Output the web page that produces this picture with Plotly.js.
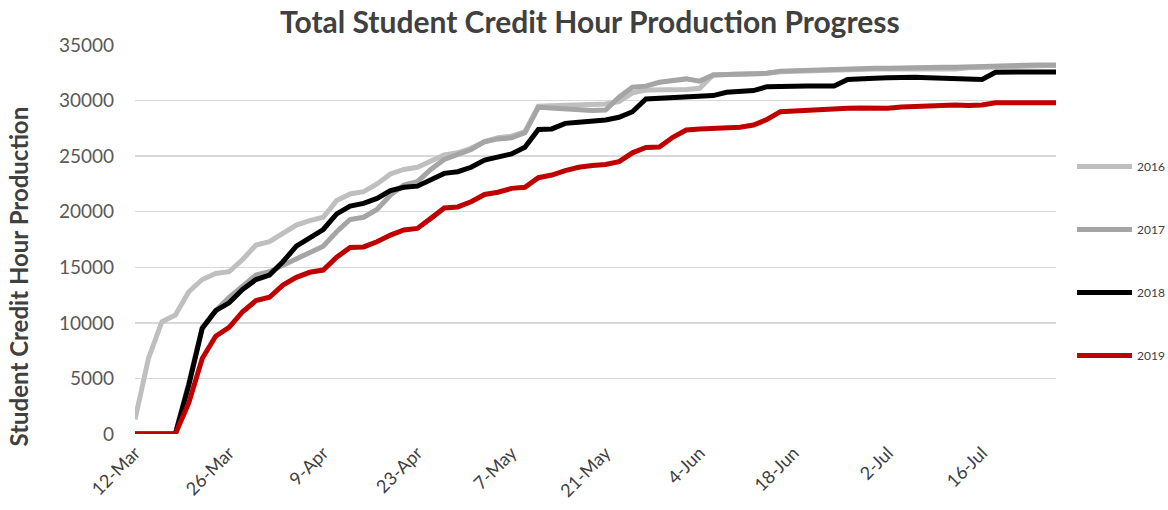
<!DOCTYPE html>
<html>
<head>
<meta charset="utf-8">
<script src="https://cdn.plot.ly/plotly-3.0.1.min.js"></script>
<style>
  html, body { margin: 0; padding: 0; background: #fff; }
  #chart { width: 1168px; height: 510px; }
</style>
</head>
<body>
<div id="chart"></div>
<script>
// every second day from 12-Mar, last point 27-Jul
const dates = [
  '2019-03-12', '2019-03-14', '2019-03-16', '2019-03-18', '2019-03-20', '2019-03-22', '2019-03-24', '2019-03-26', '2019-03-28', '2019-03-30',
  '2019-04-01', '2019-04-03', '2019-04-05', '2019-04-07', '2019-04-09', '2019-04-11', '2019-04-13', '2019-04-15', '2019-04-17', '2019-04-19',
  '2019-04-21', '2019-04-23', '2019-04-25', '2019-04-27', '2019-04-29', '2019-05-01', '2019-05-03', '2019-05-05', '2019-05-07', '2019-05-09',
  '2019-05-11', '2019-05-13', '2019-05-15', '2019-05-17', '2019-05-19', '2019-05-21', '2019-05-23', '2019-05-25', '2019-05-27', '2019-05-29',
  '2019-05-31', '2019-06-02', '2019-06-04', '2019-06-06', '2019-06-08', '2019-06-10', '2019-06-12', '2019-06-14', '2019-06-16', '2019-06-18',
  '2019-06-20', '2019-06-22', '2019-06-24', '2019-06-26', '2019-06-28', '2019-06-30', '2019-07-02', '2019-07-04', '2019-07-06', '2019-07-08',
  '2019-07-10', '2019-07-12', '2019-07-14', '2019-07-16', '2019-07-18', '2019-07-20', '2019-07-22', '2019-07-24', '2019-07-26', '2019-07-27'
];

const sch2016 = [
  1300, 6800, 10100, 10700, 12800, 13900, 14450, 14600, 15700, 17000,
  17300, 18100, 18800, 19200, 19500, 21000, 21600, 21800, 22500, 23400,
  23800, 24000, 24600, 25100, 25300, 25700, 26300, 26650, 26800, 27200,
  29500, 29550, 29600, 29600, 29650, 29700, 29900, 30700, 30950, 30950,
  30950, 31000, 31100, 32300, 32350, 32350, 32400, 32450, 32600, 32650,
  32700, 32750, 32800, 32800, 32800, 32850, 32850, 32850, 32900, 32850,
  32800, 32850, 32950, 33000, 33050, 33100, 33100, 33150, 33150, 33150
];

const sch2017 = [
  0, 0, 0, 0, 4600, 9600, 11100, 12300, 13300, 14300,
  14600, 15200, 15800, 16300, 16900, 18200, 19300, 19500, 20200, 21500,
  22400, 22700, 23800, 24700, 25100, 25600, 26300, 26550, 26650, 27100,
  29400, 29300, 29250, 29150, 29100, 29150, 30300, 31200, 31300, 31650,
  31850, 31950, 31750, 32300, 32350, 32350, 32400, 32450, 32650, 32700,
  32750, 32800, 32850, 32850, 32850, 32900, 32900, 32950, 32950, 32950,
  33000, 33000, 33050, 33100, 33100, 33150, 33200, 33200, 33200, 33200
];

const sch2018 = [
  0, 0, 0, 0, 4400, 9500, 11100, 11800, 13000, 13900,
  14300, 15500, 16900, 17600, 18400, 19800, 20500, 20750, 21200, 21900,
  22200, 22300, 22900, 23450, 23600, 24000, 24650, 24900, 25200, 25800,
  27400, 27450, 27950, 28050, 28100, 28250, 28500, 29000, 30150, 30200,
  30330, 30400, 30420, 30450, 30750, 30850, 30900, 31250, 31300, 31320,
  31320, 31320, 31320, 31900, 32000, 32000, 32050, 32100, 32100, 32050,
  32000, 31950, 31900, 31900, 32550, 32550, 32580, 32580, 32580, 32580
];

const sch2019 = [
  0, 0, 0, 0, 2800, 6800, 8800, 9600, 11000, 12000,
  12300, 13400, 14100, 14550, 14750, 15900, 16780, 16830, 17300, 17900,
  18360, 18500, 19400, 20340, 20430, 20900, 21550, 21750, 22100, 22200,
  23060, 23300, 23700, 24000, 24150, 24250, 24500, 25300, 25780, 25830,
  26700, 27350, 27450, 27500, 27560, 27600, 27800, 28300, 29000, 29070,
  29150, 29250, 29280, 29300, 29340, 29340, 29300, 29430, 29500, 29550,
  29610, 29600, 29550, 29600, 29800, 29800, 29780, 29780, 29800, 29800
];

const years = ['2016', '2017', '2018', '2019'];
const colors = ['#BFBFBF', '#A5A5A5', '#000000', '#C00000'];
const series = [sch2016, sch2017, sch2018, sch2019];

const font = 'Lato, "Open Sans", sans-serif';

let data = series.map((vals, i) => ({
  x: dates,
  y: vals,
  type: 'scatter',
  mode: 'lines',
  name: years[i],
  legendgroup: years[i],
  line: { color: colors[i], width: 5 }
}));

let layout = {
  width: 1168,
  height: 510,
  margin: { l: 135, r: 112, t: 45, b: 76, autoexpand: false },
  paper_bgcolor: '#ffffff',
  plot_bgcolor: '#ffffff',
  font: { family: font, color: '#595959' },
  title: {
    text: '<b>Total Student Credit Hour Production Progress</b>',
    font: { family: font, size: 30, color: '#404040' },
    x: 0.505, xanchor: 'center',
    y: 0.955, yanchor: 'middle'
  },
  xaxis: {
    type: 'date',
    range: ['2019-03-12', '2019-07-27'],
    tick0: '2019-03-12',
    dtick: 14 * 86400000,
    tickformat: '%-d-%b',
    tickangle: -45,
    ticklabelstandoff: 4,
    tickfont: { family: font, size: 18, color: '#404040' },
    showgrid: false,
    zeroline: false,
    showline: false,
    ticks: ''
  },
  yaxis: {
    range: [0, 35000],
    dtick: 5000,
    tickformat: 'd',
    ticklabelstandoff: 20,
    tickfont: { family: font, size: 19, color: '#595959' },
    gridcolor: '#D9D9D9',
    gridwidth: 1.5,
    zeroline: false,
    showline: false,
    ticks: ''
  },
  // y title placed like the original: left edge, a bit below the plot centre
  annotations: [{
    text: '<b>Student Credit Hour Production</b>',
    xref: 'paper', yref: 'paper',
    x: -0.127, y: 0.405,
    xanchor: 'center', yanchor: 'middle',
    textangle: -90,
    showarrow: false,
    font: { family: font, size: 24, color: '#404040' }
  }],
  showlegend: true,
  legend: {
    x: 1.0174, xanchor: 'left',
    y: 0.725, yanchor: 'top',
    traceorder: 'grouped',
    tracegroupgap: 44,
    itemwidth: 55,
    font: { family: font, size: 12, color: '#404040' },
    bgcolor: 'rgba(0,0,0,0)'
  }
};

Plotly.newPlot('chart', data, layout, { displayModeBar: false, staticPlot: true });
</script>
</body>
</html>
